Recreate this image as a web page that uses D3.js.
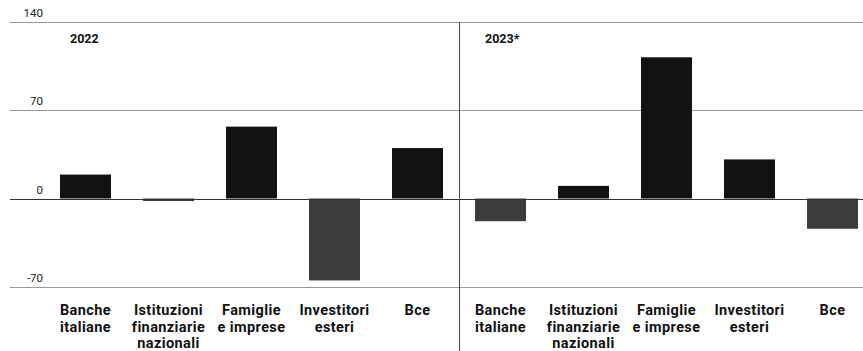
<!DOCTYPE html>
<html><head><meta charset="utf-8">
<script src="https://cdn.jsdelivr.net/npm/d3@7"></script>
<style>body{margin:0;background:#fff}svg{display:block}</style>
</head><body><svg id="c" width="863" height="351"></svg>
<script>
const categories = [["Banche","italiane"],["Istituzioni","finanziarie","nazionali"],["Famiglie","e imprese"],["Investitori","esteri"],["Bce"]];
const categoryKeys = ["Banche italiane","Istituzioni finanziarie nazionali","Famiglie e imprese","Investitori esteri","Bce"];
const panels = ["2022","2023*"];
const values2022 = [19, -2, 57, -65, 40];
const values2023 = [-18, 10, 112, 31, -24];
const yTicks = [-70, 0, 70, 140];

const svg = d3.select("#c");
const y = d3.scaleLinear().domain([-70,140]).range([286.75,22]);

// gridlines
svg.selectAll("line.grid").data(yTicks).join("line")
  .attr("x1",10).attr("x2",863)
  .attr("y1",d=>Math.round(y(d))+0.5).attr("y2",d=>Math.round(y(d))+0.5)
  .attr("stroke",d=>d===0?"#333":"#999").attr("stroke-width",1);
svg.selectAll("text.tick").data(yTicks).join("text")
  .attr("x",43).attr("y",d=>Math.round(y(d))-5)
  .attr("text-anchor","end").attr("font-family","Roboto, sans-serif")
  .attr("font-size",11.5).attr("fill","#222").text(d=>d);

const panelRanges = [[44,459],[459,874]];
const panelData = [values2022, values2023];
panelData.forEach((vals,pi)=>{
  const x = d3.scaleBand().domain(categoryKeys).range(panelRanges[pi]).paddingInner(0.386).paddingOuter(0.193);
  const g = svg.append("g");
  g.selectAll("rect").data(vals).join("rect")
    .attr("x",(d,i)=>x(categoryKeys[i])).attr("width",x.bandwidth())
    .attr("y",d=>y(Math.max(0,d))).attr("height",d=>Math.abs(y(d)-y(0)))
    .attr("fill",d=>d>=0?"#121212":"#3c3c3c");
  g.append("text").attr("x",panelRanges[pi][0]+26).attr("y",43)
    .attr("font-family","Roboto, sans-serif").attr("font-weight","bold").attr("font-size",12.5)
    .attr("fill","#111").text(panels[pi]);
  const lbl = g.selectAll("text.cat").data(categories).join("text")
    .attr("class","cat")
    .attr("x",(d,i)=>x(categoryKeys[i])+x.bandwidth()/2)
    .attr("text-anchor","middle").attr("font-family","Roboto, sans-serif")
    .attr("font-weight","bold").attr("font-size",14.5).attr("letter-spacing",0.4).attr("fill","#111");
  lbl.selectAll("tspan").data(d=>d).join("tspan")
    .attr("x",function(){return this.parentNode.getAttribute("x");})
    .attr("y",(d,j)=>315+j*16.5).text(d=>d);
});
// redraw zero line over bars
svg.append("line").attr("x1",10).attr("x2",863)
  .attr("y1",Math.round(y(0))+0.5).attr("y2",Math.round(y(0))+0.5)
  .attr("stroke","#333").attr("stroke-width",1);
// divider
svg.append("line").attr("x1",459.5).attr("x2",459.5).attr("y1",22).attr("y2",351)
  .attr("stroke","#444").attr("stroke-width",1);
</script></body></html>
